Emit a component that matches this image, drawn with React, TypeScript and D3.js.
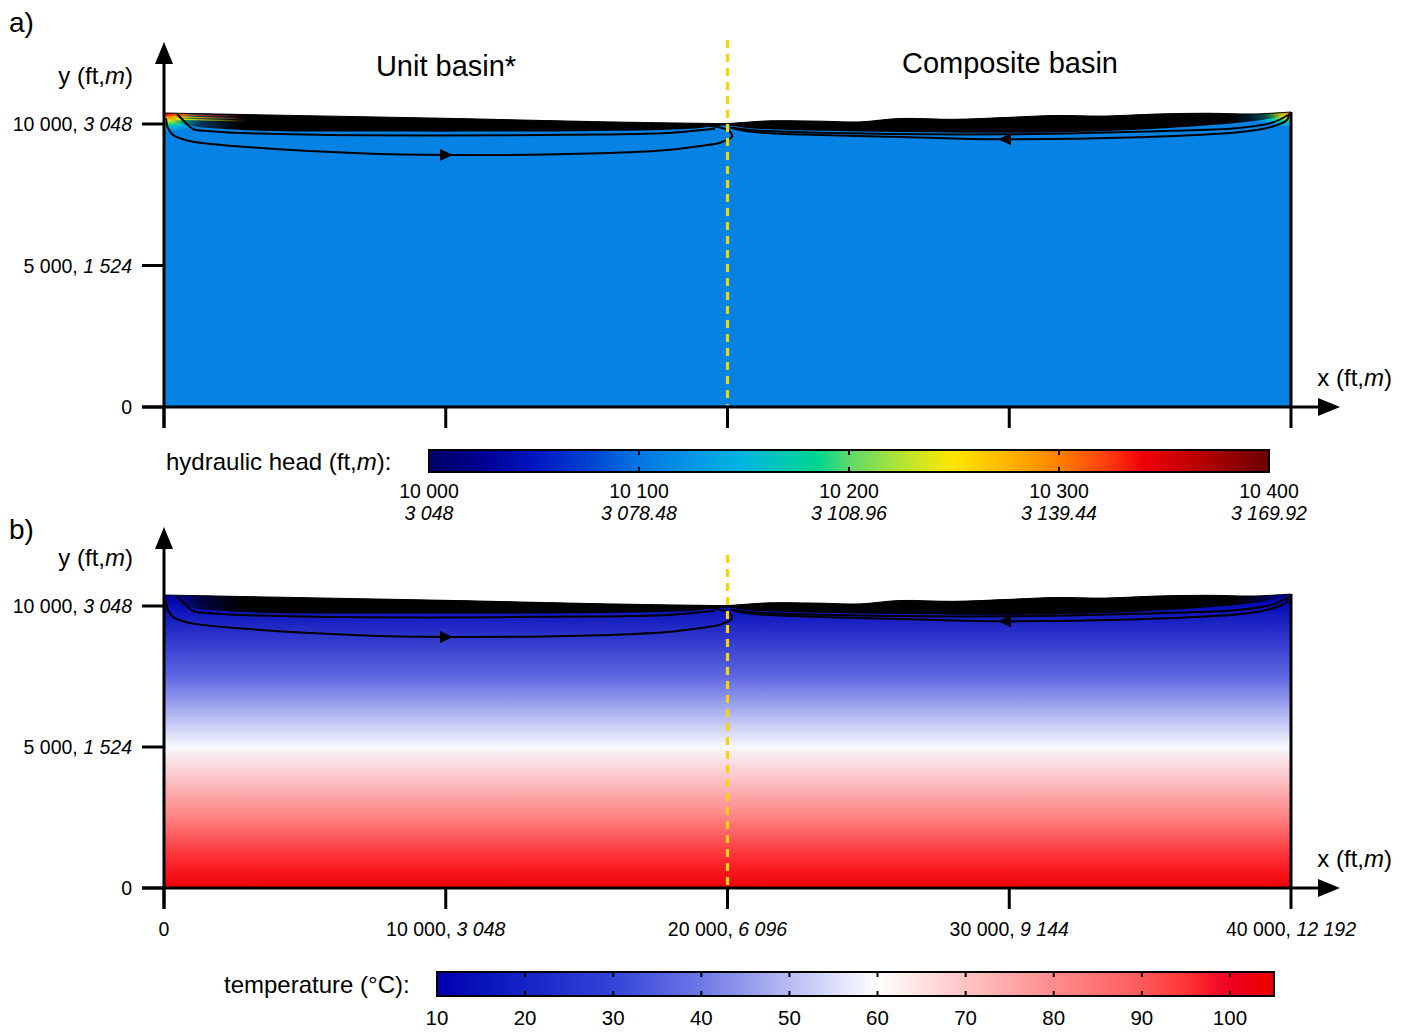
import React from 'react';
import * as d3 from 'd3';

const W = 1410;
const H = 1032;

// ---- topography of the basin (ft) ----
const surfaceX = [0, 5000, 10000, 15475, 19024, 20000, 20500, 21500, 23300, 24700, 26100, 28000, 30000, 31600, 33400, 35200, 37000, 38700, 40000];
const surfaceElev = [10389, 10295, 10201, 10081, 10025, 10018, 10050, 10112, 10100, 10075, 10195, 10165, 10235, 10300, 10280, 10352, 10380, 10355, 10424];

// bottom of the dense (black) equipotential band (ft)
const bandX = [0, 461, 1029, 3407, 6957, 15475, 18669, 20000, 20799, 22573, 29849, 34570, 38119, 39325, 40000];
const bandElev = [10177, 10050, 9920, 9765, 9735, 9755, 9835, 9950, 9850, 9775, 9690, 9800, 10040, 10200, 10389];

// separate contour lines under the band (ft)
const contourLeftX = [461, 674, 1029, 1633, 3407, 6957, 12000, 15475, 17853, 19024, 19557];
const contourLeftElev = [10353, 10141, 9823, 9745, 9660, 9600, 9605, 9625, 9680, 9780, 9830];
const contourRightX = [39893, 39325, 38119, 35776, 29849, 23283, 20799, 20160];
const contourRightElev = [10318, 10046, 9859, 9763, 9636, 9690, 9788, 9876];

// flow lines (ft)
const flowLeftX = [71, 142, 319, 568, 1029, 2804, 6957, 10009, 15475, 17853, 19024, 19734, 20160, 20089, 19840, 19379];
const flowLeftElev = [10201, 9859, 9611, 9495, 9375, 9198, 8965, 8905, 8965, 9081, 9223, 9339, 9551, 9728, 9848, 9929];
const flowLeftArrow = 7;
const flowRightX = [39929, 39858, 39325, 38119, 34570, 29849, 26832, 23283, 21154, 20444, 20089];
const flowRightElev = [10371, 10141, 9905, 9707, 9530, 9459, 9523, 9611, 9700, 9788, 9876];
const flowRightArrow = 5;

// temperature profile with elevation (ft -> °C)
const tempElev = [0, 1000, 2500, 5000, 7500, 10000, 10424];
const tempValue = [104, 96, 82, 59, 37, 14, 10];

// hydraulic head colour map
const headStops = [10000, 10025, 10050, 10075, 10100, 10125, 10150, 10185, 10200, 10230, 10250, 10275, 10300, 10322, 10340, 10370, 10400];
const headColors = ['#000066', '#000090', '#0016C0', '#0040D0', '#0476E2', '#0496E6', '#00B6DF', '#00D68E', '#5CDA6C', '#C4E626', '#FFE600', '#FFB600', '#FF8000', '#FF4010', '#F00008', '#B00000', '#6C0000'];
const headBase = 10110;
const headTicks = [10000, 10100, 10200, 10300, 10400];
const headTickFt = ['10 000', '10 100', '10 200', '10 300', '10 400'];
const headTickM = ['3 048', '3 078.48', '3 108.96', '3 139.44', '3 169.92'];

// head levels shown near the recharge corners
const cornerLeftHeads = [10380, 10340, 10300, 10270, 10245, 10215, 10190, 10165, 10140, 10125, headBase];
const cornerRightHeads = [10320, 10285, 10255, 10230, 10205, 10180, 10155, 10130, headBase];
const stripeHeads = [10330, 10280, 10250];

// temperature colour map
const tempStops = [10, 20, 30, 40, 50, 60, 70, 80, 90, 95, 100, 105];
const tempColors = ['#0000B0', '#1424C6', '#3444D8', '#6E78E6', '#B8BCF2', '#FFFFFF', '#FFC4C4', '#FF8C8C', '#FF5A5A', '#FF3434', '#F00020', '#EC0000'];
const tempTicks = [10, 20, 30, 40, 50, 60, 70, 80, 90, 100];

// axes
const yTicks = [0, 5000, 10000];
const yTickFt = ['0', '5 000, ', '10 000, '];
const yTickM = ['', '1 524', '3 048'];
const xTicks = [0, 10000, 20000, 30000, 40000];
const xTickFt = ['0', '10 000, ', '20 000, ', '30 000, ', '40 000, '];
const xTickM = ['', '3 048', '6 096', '9 144', '12 192'];

const FONT = '"Liberation Sans", Arial, Helvetica, sans-serif';

const xS = d3.scaleLinear().domain([0, 40000]).range([164, 1291]);
const headColor = d3.scaleLinear<string>().domain(headStops).range(headColors).interpolate(d3.interpolateRgb);
const tempColor = d3.scaleLinear<string>().domain(tempStops).range(tempColors).interpolate(d3.interpolateRgb);
const tempAt = d3.scaleLinear().domain(tempElev).range(tempValue);

const smooth = d3.line<[number, number]>().curve(d3.curveCatmullRom.alpha(0.5));

type PanelCfg = { key: string; base: number; top: number; arrowTop: number; dashTop: number; label: string; labelY: number; kind: 'head' | 'temp'; showXLabels: boolean };

const panels: PanelCfg[] = [
  { key: 'a', base: 407, top: 124, arrowTop: 42, dashTop: 40, label: 'a)', labelY: 32, kind: 'head', showXLabels: false },
  { key: 'b', base: 888, top: 606, arrowTop: 527, dashTop: 555, label: 'b)', labelY: 539, kind: 'temp', showXLabels: true },
];

function Panel({ cfg }: { cfg: PanelCfg }) {
  const yS = d3.scaleLinear().domain([0, 10000]).range([cfg.base, cfg.top]);
  const pts = (xs: number[], ys: number[]) => xs.map((x, i) => [xS(x), yS(ys[i])] as [number, number]);
  const surf = pts(surfaceX, surfaceElev);
  const band = pts(bandX, bandElev);
  const surfD = smooth(surf) as string;
  const domainPath = surfD + `L${xS(40000)},${yS(0)}L${xS(0)},${yS(0)}Z`;
  const bandPath = surfD + (smooth(band.slice().reverse()) as string).replace(/^M/, 'L') + 'Z';
  const cL = smooth(pts(contourLeftX, contourLeftElev)) as string;
  const cR = smooth(pts(contourRightX, contourRightElev)) as string;
  const fL = pts(flowLeftX, flowLeftElev);
  const fR = pts(flowRightX, flowRightElev);
  const arrow = (p: [number, number][], i: number) => {
    const a = p[i - 1], b = p[i + 1], c = p[i];
    const dx = b[0] - a[0], dy = b[1] - a[1];
    const L = Math.hypot(dx, dy);
    const ux = dx / L, uy = dy / L;
    const nx = -uy, ny = ux;
    const tip = [c[0] + ux * 7, c[1] + uy * 7];
    const b1 = [c[0] - ux * 6 + nx * 6, c[1] - uy * 6 + ny * 6];
    const b2 = [c[0] - ux * 6 - nx * 6, c[1] - uy * 6 - ny * 6];
    return `M${tip[0]},${tip[1]}L${b1[0]},${b1[1]}L${b2[0]},${b2[1]}Z`;
  };
  const id = cfg.key;
  const x0 = xS(0), x1 = xS(40000);
  const yTopSurf = yS(surfaceElev[surfaceElev.length - 1]);
  const yTopLeft = yS(surfaceElev[0]);
  const gy1 = yS(10424), gy2 = yS(0);
  const fill = cfg.kind === 'head' ? headColor(headBase) : `url(#tempGrad${id})`;
  const axisLabelY = cfg.top - 40;
  const span = x1 - x0;
  const leftSurfAt = (px: number) => yTopLeft + (surf[1][1] - surf[0][1]) * (px - x0) / (surf[1][0] - surf[0][0]);

  return (
    <g>
      <defs>
        <clipPath id={`clip${id}`}>
          <path d={domainPath} />
        </clipPath>
        <linearGradient id={`tempGrad${id}`} gradientUnits="userSpaceOnUse" x1={0} y1={gy1} x2={0} y2={gy2}>
          {tempElev.map((e, i) => (
            <stop key={i} offset={(yS(e) - gy1) / (gy2 - gy1)} stopColor={tempColor(tempAt(e))} />
          )).reverse()}
        </linearGradient>
        <linearGradient id={`bandOp${id}`} gradientUnits="userSpaceOnUse" x1={x0} y1={0} x2={x1} y2={0}>
          <stop offset={0} stopColor="#000" stopOpacity={0} />
          <stop offset={14 / span} stopColor="#000" stopOpacity={0.15} />
          <stop offset={35 / span} stopColor="#000" stopOpacity={0.6} />
          <stop offset={75 / span} stopColor="#000" stopOpacity={1} />
          <stop offset={(span - 60) / span} stopColor="#000" stopOpacity={1} />
          <stop offset={(span - 28) / span} stopColor="#000" stopOpacity={0.65} />
          <stop offset={(span - 10) / span} stopColor="#000" stopOpacity={0.2} />
          <stop offset={1} stopColor="#000" stopOpacity={0} />
        </linearGradient>
        <radialGradient id={`cornerL${id}`} gradientUnits="userSpaceOnUse" cx={0} cy={0} r={1}
          gradientTransform={`translate(${x0},${yTopLeft}) scale(48,19)`}>
          {cornerLeftHeads.map((h, i, arr) => (
            <stop key={i} offset={i / (arr.length - 1)} stopColor={headColor(h)} />
          ))}
        </radialGradient>
        <radialGradient id={`cornerR${id}`} gradientUnits="userSpaceOnUse" cx={0} cy={0} r={1}
          gradientTransform={`translate(${x1},${yTopSurf}) scale(45,15)`}>
          {cornerRightHeads.map((h, i, arr) => (
            <stop key={i} offset={i / (arr.length - 1)} stopColor={headColor(h)} />
          ))}
        </radialGradient>
        {stripeHeads.map((h, i) => (
          <linearGradient key={i} id={`stripe${id}${i}`} gradientUnits="userSpaceOnUse" x1={x0} y1={0} x2={x0 + 85} y2={0}>
            <stop offset={0} stopColor={headColor(h)} stopOpacity={1} />
            <stop offset={0.5} stopColor={headColor(h)} stopOpacity={0.7} />
            <stop offset={1} stopColor={headColor(h)} stopOpacity={0} />
          </linearGradient>
        ))}
      </defs>

      {/* domain */}
      <path d={domainPath} fill={fill} />
      {cfg.kind === 'head' && (
        <g clipPath={`url(#clip${id})`}>
          <rect x={x0} y={cfg.top - 30} width={120} height={50} fill={`url(#cornerL${id})`} />
          <rect x={x1 - 100} y={cfg.top - 30} width={100} height={50} fill={`url(#cornerR${id})`} />
        </g>
      )}
      {/* dense equipotentials */}
      <path d={bandPath} fill={`url(#bandOp${id})`} stroke="none" />
      {cfg.kind === 'head' && (
        <g clipPath={`url(#clip${id})`} fill="none" strokeWidth={1.3}>
          {stripeHeads.map((h, i) => {
            const off = 1.6 + i * 2.2;
            const xa = x0 + 6 + i * 3, xb = x0 + 85;
            return (
              <line key={i} x1={xa} x2={xb} y1={leftSurfAt(xa) + off} y2={leftSurfAt(xb) + off + 0.5}
                stroke={`url(#stripe${id}${i})`} />
            );
          })}
        </g>
      )}
      <g fill="none" stroke="#000" strokeWidth={2} clipPath={`url(#clip${id})`}>
        <path d={cL} />
        <path d={cR} />
        <path d={smooth(fL) as string} />
        <path d={smooth(fR) as string} />
      </g>
      <path d={arrow(fL, flowLeftArrow)} fill="#000" />
      <path d={arrow(fR, flowRightArrow)} fill="#000" />
      {/* surface edge */}
      <path d={surfD} fill="none" stroke="#000" strokeWidth={1} />
      {/* right boundary */}
      <line x1={x1} x2={x1} y1={yTopSurf} y2={cfg.base} stroke="#000" strokeWidth={3} />

      {/* divide */}
      <line x1={xS(20000)} x2={xS(20000)} y1={cfg.dashTop} y2={cfg.base - 2} stroke="#F7D308" strokeWidth={3.2} strokeDasharray="8,6" />

      {/* axes */}
      <line x1={x0} x2={x0} y1={cfg.base + 21} y2={cfg.arrowTop + 12} stroke="#000" strokeWidth={3} />
      <path d={`M${x0},${cfg.arrowTop}L${x0 - 9},${cfg.arrowTop + 22}L${x0 + 9},${cfg.arrowTop + 22}Z`} fill="#000" />
      <line x1={142} x2={1328} y1={cfg.base} y2={cfg.base} stroke="#000" strokeWidth={3} />
      <path d={`M1340,${cfg.base}L1318,${cfg.base - 9}L1318,${cfg.base + 9}Z`} fill="#000" />
      {yTicks.map((t, i) => (
        <g key={t}>
          <line x1={142} x2={x0} y1={yS(t)} y2={yS(t)} stroke="#000" strokeWidth={3} />
          <text x={132} y={yS(t) + 7} textAnchor="end" fontSize={19.5} fontFamily={FONT} fill="#000">
            {yTickFt[i]}<tspan fontStyle="italic">{yTickM[i]}</tspan>
          </text>
        </g>
      ))}
      {xTicks.map((t, i) => (
        <g key={t}>
          <line x1={xS(t)} x2={xS(t)} y1={cfg.base} y2={cfg.base + 21} stroke="#000" strokeWidth={3} />
          {cfg.showXLabels && (
            <text x={xS(t)} y={cfg.base + 48} textAnchor="middle" fontSize={19.5} fontFamily={FONT} fill="#000">
              {xTickFt[i]}<tspan fontStyle="italic">{xTickM[i]}</tspan>
            </text>
          )}
        </g>
      ))}
      <text x={133} y={axisLabelY} textAnchor="end" fontSize={24} fontFamily={FONT}>
        y (ft,<tspan fontStyle="italic">m</tspan>)
      </text>
      <text x={1392} y={cfg.base - 21} textAnchor="end" fontSize={24} fontFamily={FONT}>
        x (ft,<tspan fontStyle="italic">m</tspan>)
      </text>
      <text x={9} y={cfg.labelY} fontSize={28} fontFamily={FONT}>{cfg.label}</text>
    </g>
  );
}

export default function App() {
  const headBar = d3.scaleLinear().domain([10000, 10400]).range([429, 1269]);
  const tempBar = d3.scaleLinear().domain([10, 105]).range([437, 1274]);
  return (
    <svg width={W} height={H} viewBox={`0 0 ${W} ${H}`} style={{ position: 'absolute', left: 0, top: 0, background: '#fff' }}>
      <defs>
        <linearGradient id="headBarGrad" x1="0" x2="1" y1="0" y2="0">
          {headStops.map((s, i) => (
            <stop key={i} offset={(s - 10000) / 400} stopColor={headColors[i]} />
          ))}
        </linearGradient>
        <linearGradient id="tempBarGrad" x1="0" x2="1" y1="0" y2="0">
          {tempStops.map((s, i) => (
            <stop key={i} offset={(s - 10) / 95} stopColor={tempColors[i]} />
          ))}
        </linearGradient>
      </defs>
      <rect x={0} y={0} width={W} height={H} fill="#fff" />
      {panels.map((p) => <Panel key={p.key} cfg={p} />)}

      <text x={446} y={76} textAnchor="middle" fontSize={29} fontFamily={FONT}>Unit basin*</text>
      <text x={1010} y={73} textAnchor="middle" fontSize={29} fontFamily={FONT}>Composite basin</text>

      {/* head colour bar */}
      <text x={166} y={470} fontSize={24} fontFamily={FONT}>
        hydraulic head (ft,<tspan fontStyle="italic">m</tspan>):
      </text>
      <rect x={headBar(10000)} y={450} width={headBar(10400) - headBar(10000)} height={22} fill="url(#headBarGrad)" stroke="#000" strokeWidth={2} />
      {headTicks.map((t, i) => (
        <g key={t}>
          {i > 0 && i < headTicks.length - 1 && (
            <g stroke="#000" strokeWidth={2}>
              <line x1={headBar(t)} x2={headBar(t)} y1={450} y2={455} />
              <line x1={headBar(t)} x2={headBar(t)} y1={467} y2={472} />
            </g>
          )}
          <text x={headBar(t)} y={498} textAnchor="middle" fontSize={19.5} fontFamily={FONT}>{headTickFt[i]}</text>
          <text x={headBar(t)} y={520} textAnchor="middle" fontSize={19.5} fontFamily={FONT} fontStyle="italic">{headTickM[i]}</text>
        </g>
      ))}

      {/* temperature colour bar */}
      <text x={224} y={993} fontSize={24} fontFamily={FONT}>temperature (°C):</text>
      <rect x={tempBar(10)} y={972} width={tempBar(105) - tempBar(10)} height={24} fill="url(#tempBarGrad)" stroke="#000" strokeWidth={2} />
      {tempTicks.map((t) => (
        <g key={t}>
          {t > 10 && (
            <g stroke="#000" strokeWidth={2}>
              <line x1={tempBar(t)} x2={tempBar(t)} y1={972} y2={977} />
              <line x1={tempBar(t)} x2={tempBar(t)} y1={991} y2={996} />
            </g>
          )}
          <text x={tempBar(t)} y={1025} textAnchor="middle" fontSize={20.5} fontFamily={FONT}>{t}</text>
        </g>
      ))}
    </svg>
  );
}
